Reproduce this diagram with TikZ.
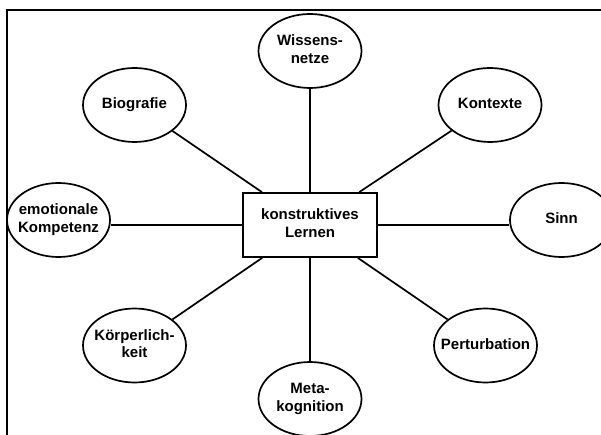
\documentclass[tikz,border=0pt]{standalone}
\usepackage{fontspec}
\setmainfont{Liberation Sans}
\usetikzlibrary{shapes.geometric}
\newcommand{\ctext}[1]{\makebox[0pt]{\begin{tabular}{@{}c@{}}#1\end{tabular}}}
\tikzset{
  lw/.style={line width=1.7pt},
  bubble/.style={lw, draw, ellipse, inner sep=0pt, minimum width=103pt, minimum height=74pt,
     font=\fontsize{15}{17.5}\selectfont\bfseries},
  centerbox/.style={lw, draw, rectangle, inner sep=0pt, minimum width=134pt, minimum height=64pt,
     font=\fontsize{15}{17.5}\selectfont\bfseries},
  link/.style={lw}
}
\begin{document}
\begin{tikzpicture}[x=1pt,y=-1pt]
\useasboundingbox (0,0) rectangle (601,435);
\clip (0,0) rectangle (601,435);
\fill[white] (0,0) rectangle (601,435);
\draw[lw] (7,10) rectangle (700,500);
\node[centerbox] (box) at (310,225) {\ctext{konstruktives\\Lernen}};
\node[bubble] (wis) at (310,51) {\ctext{Wissens-\\netze}};
\node[bubble] (bio) at (134.5,105) {\ctext{Biografie}};
\node[bubble] (kon) at (490,105) {\ctext{Kontexte}};
\node[bubble] (emo) at (58.5,220) {\ctext{emotionale\\Kompetenz}};
\node[bubble] (sinn) at (561.5,220) {\ctext{Sinn}};
\node[bubble] (koe) at (134.5,345.5) {\ctext{K\"orperlich-\\keit}};
\node[bubble] (per) at (485.5,345.5) {\ctext{Perturbation}};
\node[bubble] (meta) at (310,399) {\ctext{Meta-\\kognition}};
\draw[link] (box) -- (wis);
\draw[link] (box) -- (meta);
\draw[link] (box) -- (bio);
\draw[link] (box) -- (kon);
\draw[link] (box) -- (koe);
\draw[link] (box) -- (per);
\draw[link] (box.west) -- (box.west -| emo.east);
\draw[link] (box.east) -- (box.east -| sinn.west);
\end{tikzpicture}
\end{document}
